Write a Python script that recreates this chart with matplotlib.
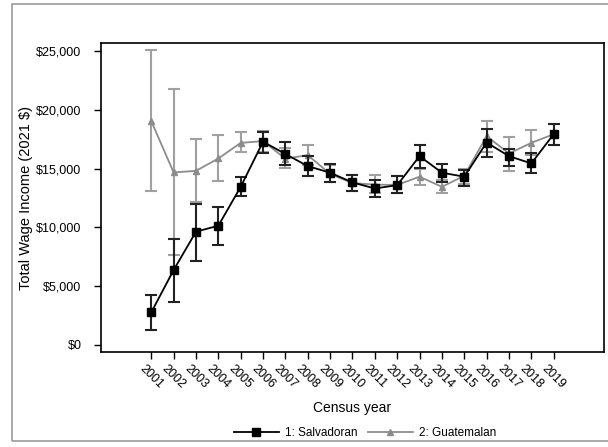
import numpy as np
import matplotlib
matplotlib.use('Agg')
import matplotlib.pyplot as plt
from matplotlib.patches import Rectangle
from matplotlib.lines import Line2D
from matplotlib.ticker import FuncFormatter

plt.rcParams['font.family'] = ['Liberation Sans', 'DejaVu Sans']

years = np.arange(2001, 2020)

# 1: Salvadoran - mean and 95% CI bounds
salv = [2780, 6380, 9640, 10150, 13460, 17300, 16250, 15220, 14660, 13830,
        13320, 13600, 16070, 14660, 14320, 17230, 16070, 15450, 17940]
salv_lo = [1280, 3690, 7170, 8480, 12670, 16300, 15300, 14370, 13900, 13120,
           12610, 12900, 15100, 13900, 13520, 16000, 15250, 14670, 17000]
salv_hi = [4250, 9010, 11990, 11760, 14300, 18150, 17290, 16100, 15370, 14500,
           14030, 14370, 17000, 15400, 14880, 18400, 16700, 16300, 18800]

# 2: Guatemalan
guat = [19050, 14680, 14820, 15870, 17200, 17350, 15850, 16160, 14550, 13780,
        13650, 13620, 14320, 13460, 14400, 17770, 16300, 17200, 17940]
guat_lo = [13100, 7650, 12190, 13950, 16410, 16400, 15050, 15300, 13850, 13120,
           12900, 12900, 13600, 12900, 13700, 16440, 14800, 16200, 17000]
guat_hi = [25080, 21770, 17490, 17880, 18110, 18200, 16750, 17000, 15300, 14450,
           14460, 14370, 14950, 14000, 15000, 19050, 17700, 18280, 18800]

fig = plt.figure(figsize=(6.08, 4.47), dpi=100)
ax = fig.add_axes([0.1661, 0.2125, 0.8273, 0.6913])

# outer frame around the whole graph
fig.patches.append(Rectangle((0.019, 0.0134), 0.985, 0.9776, transform=fig.transFigure,
                             fill=False, edgecolor='#9a9a9a', linewidth=1.2))

g = np.array(guat)
ax.errorbar(years, g, yerr=[g - np.array(guat_lo), np.array(guat_hi) - g],
            color='#8c8c8c', ecolor='#a0a0a0', elinewidth=1.5, capsize=4, capthick=1.5,
            marker='^', markersize=5, linewidth=1.3, zorder=2)

s = np.array(salv)
ax.errorbar(years, s, yerr=[s - np.array(salv_lo), np.array(salv_hi) - s],
            color='black', ecolor='#222222', elinewidth=1.5, capsize=4, capthick=1.5,
            marker='s', markersize=6, linewidth=1.3, zorder=3)

ax.set_xlim(1998.75, 2021.25)
ax.set_ylim(-600, 25700)
ax.set_xticks(years)
ax.set_xticklabels([str(y) for y in years], rotation=-45, ha='center', va='top', fontsize=9)
ax.set_yticks(np.arange(0, 25001, 5000))
ax.yaxis.set_major_formatter(FuncFormatter(lambda v, p: '${:,.0f}'.format(v)))
ax.tick_params(axis='y', labelsize=9, length=5, width=1, pad=9)
ax.tick_params(axis='x', length=5, width=1, pad=3)
for sp in ax.spines.values():
    sp.set_linewidth(1.2)

ax.set_xlabel('Census year', fontsize=10, labelpad=7)
ax.set_ylabel('Total Wage Income (2021 $)', fontsize=10.5, labelpad=2.5)

handles = [Line2D([], [], color='black', marker='s', markersize=6, linewidth=1.3),
           Line2D([], [], color='#8c8c8c', marker='^', markersize=5, linewidth=1.3)]
fig.legend(handles, ['1: Salvadoran', '2: Guatemalan'], loc='center',
           bbox_to_anchor=(0.6, 0.031), ncol=2, frameon=False, fontsize=8.5,
           handlelength=3.8, handletextpad=0.5, columnspacing=0.9)

fig.savefig('out.png', dpi=100)
